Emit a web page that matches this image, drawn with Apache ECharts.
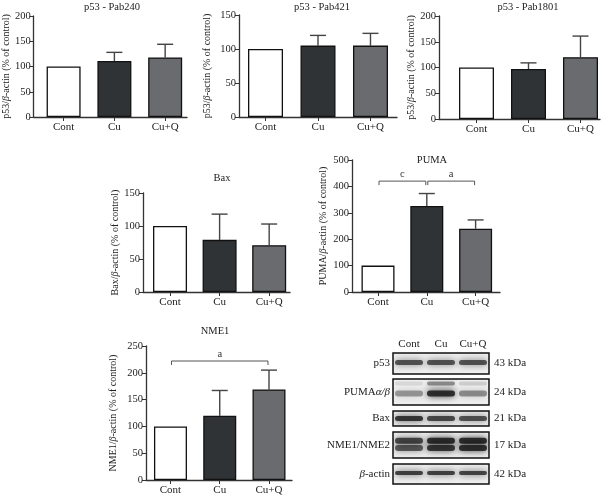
<!DOCTYPE html>
<html><head><meta charset="utf-8">
<script src="https://cdn.jsdelivr.net/npm/echarts@6/dist/echarts.min.js"></script>
<style>html,body{margin:0;padding:0;background:#fff}#c{width:607px;height:497px}</style>
</head><body><div id="c"></div>
<script>
// ---------- data ----------
const categories = ['Cont', 'Cu', 'Cu+Q'];
const pab240 = [100, 111, 118];
const pab240Err = [0, 17, 26];
const pab421 = [100, 105, 105];
const pab421Err = [0, 15, 18];
const pab1801 = [100, 97, 120];
const pab1801Err = [0, 12, 41];
const bax = [100, 79, 71];
const baxErr = [0, 39, 32];
const puma = [100, 326, 240];
const pumaErr = [0, 47, 33];
const nme1 = [100, 120, 169];
const nme1Err = [0, 47, 36];
const pumaSig = [[1, 2, 420], [2, 3, 420]];
const pumaSigLabels = ['c', 'a'];
const nme1Sig = [[1, 3, 222]];
const nme1SigLabels = ['a'];
// blot band intensities (per lane)
const blotRows = ['p53', 'PUMAα/β', 'Bax', 'NME1/NME2', 'β-actin'];
const blotKDa = ['43 kDa', '24 kDa', '21 kDa', '17 kDa', '42 kDa'];
const bandP53 = [[0.8, 0.8, 0.8]];
const bandPUMA = [[0.12, 0.5, 0.18], [0.45, 1.0, 0.5]];
const bandBax = [[0.95, 0.85, 0.8]];
const bandNME = [[0.85, 1.0, 1.0], [0.75, 0.95, 1.0]];
const bandActin = [[0.9, 0.9, 0.88]];

// ---------- layout / style ----------
const F = '"Liberation Serif","DejaVu Serif",serif';
const fills = ['#ffffff', '#303336', '#6a6b6f'];
const AX = '#333';
const panels = [
  {title:'p53 - Pab240', yname:'p53', vals:pab240, errs:pab240Err, ymax:200, step:50, grid:{left:33,top:16,width:154,height:101}, xmin:0.41, xmax:3.43, bw:34, gap:21, tx:112, ty:7},
  {title:'p53 - Pab421', yname:'p53', vals:pab421, errs:pab421Err, ymax:150, step:50, grid:{left:239,top:15,width:158,height:102}, xmin:0.495, xmax:3.505, bw:35, gap:27, tx:322, ty:7},
  {title:'p53 - Pab1801', yname:'p53', vals:pab1801, errs:pab1801Err, ymax:200, step:50, grid:{left:439,top:16,width:161,height:103}, xmin:0.279, xmax:3.375, bw:35, gap:21, tx:528, ty:7},
  {title:'Bax', yname:'Bax', vals:bax, errs:baxErr, ymax:150, step:50, grid:{left:143,top:193,width:147,height:99}, xmin:0.455, xmax:3.42, bw:34, gap:21, tx:222, ty:178},
  {title:'PUMA', yname:'PUMA', vals:puma, errs:pumaErr, ymax:500, step:100, grid:{left:352,top:160,width:148,height:132}, xmin:0.467, xmax:3.5, bw:33, gap:24, tx:432, ty:160, sig:pumaSig, sigL:pumaSigLabels},
  {title:'NME1', yname:'NME1', vals:nme1, errs:nme1Err, ymax:250, step:50, grid:{left:146,top:346,width:146,height:134}, xmin:0.503, xmax:3.467, bw:33, gap:28, tx:215, ty:331, sig:nme1Sig, sigL:nme1SigLabels}
];
const blotLayout = [
  {top:353, h:21, bands:[{pos:0.45, th:5}], data:bandP53},
  {top:379, h:26, bands:[{pos:0.17, th:4}, {pos:0.56, th:6}], data:bandPUMA},
  {top:411, h:15, bands:[{pos:0.5, th:5}], data:bandBax},
  {top:432, h:26, bands:[{pos:0.34, th:6}, {pos:0.62, th:6}], data:bandNME},
  {top:464, h:20, bands:[{pos:0.45, th:4}], data:bandActin}
];

const grids = [], xAxes = [], yAxes = [], series = [], graphics = [];
const rich = {r:{fontFamily:F, fontSize:10, color:'#222'}, i:{fontFamily:F, fontSize:10, color:'#222', fontStyle:'italic'}};

panels.forEach((p, k) => {
  grids.push(Object.assign({containLabel:false}, p.grid));
  xAxes.push({
    gridIndex:k, type:'value', min:p.xmin, max:p.xmax,
    axisLine:{show:true, onZero:false, lineStyle:{color:AX, width:1.3}},
    axisTick:{show:true, customValues:[1,2,3], length:4, lineStyle:{color:AX}},
    axisLabel:{customValues:[1,2,3], formatter:v => categories[Math.round(v)-1], fontFamily:F, fontSize:11, color:'#222', margin:5},
    splitLine:{show:false}
  });
  yAxes.push({
    gridIndex:k, type:'value', min:0, max:p.ymax, interval:p.step,
    axisLine:{show:true, lineStyle:{color:AX, width:1.3}},
    axisTick:{show:true, length:4, lineStyle:{color:AX}},
    axisLabel:{fontFamily:F, fontSize:10.5, color:'#222', margin:3},
    splitLine:{show:false},
    name:'{r|' + p.yname + '/}{i|β}{r|-actin (% of control)}',
    nameLocation:'middle', nameGap:p.gap, nameRotate:90,
    nameTextStyle:{rich:rich}
  });
  series.push({
    type:'bar', xAxisIndex:k, yAxisIndex:k, barWidth:p.bw,
    data:p.vals.map((v, j) => ({value:[j+1, v], itemStyle:{color:fills[j], borderColor:'#111', borderWidth:1.3}})),
    silent:true, animation:false
  });
  series.push({
    type:'custom', xAxisIndex:k, yAxisIndex:k, animation:false, silent:true,
    data:p.vals.map((v, j) => [j+1, v, v + p.errs[j]]),
    renderItem:(params, api) => {
      if (api.value(2) <= api.value(1)) return;
      const a = api.coord([api.value(0), api.value(1)]);
      const b = api.coord([api.value(0), api.value(2)]);
      const cw = 8;
      return {type:'group', children:[
        {type:'line', shape:{x1:a[0], y1:a[1], x2:b[0], y2:b[1]}, style:{stroke:'#444', lineWidth:1.4}},
        {type:'line', shape:{x1:b[0]-cw, y1:b[1], x2:b[0]+cw, y2:b[1]}, style:{stroke:'#444', lineWidth:1.4}}
      ]};
    }
  });
  if (p.sig) {
    series.push({
      type:'custom', xAxisIndex:k, yAxisIndex:k, animation:false, silent:true,
      data:p.sig,
      renderItem:(params, api) => {
        const a = api.coord([api.value(0), api.value(2)]);
        const b = api.coord([api.value(1), api.value(2)]);
        return {type:'group', children:[
          {type:'polyline', shape:{points:[[a[0]+1, a[1]+4], [a[0]+1, a[1]], [b[0]-1, b[1]], [b[0]-1, b[1]+4]]}, style:{stroke:'#555', lineWidth:1, fill:null}},
          {type:'text', style:{text:p.sigL[params.dataIndex], x:(a[0]+b[0])/2, y:a[1]-7, align:'center', verticalAlign:'middle', fontFamily:F, fontSize:10.5, fill:'#333'}}
        ]};
      }
    });
  }
  graphics.push({type:'text', x:p.tx, y:p.ty, style:{text:p.title, align:'center', verticalAlign:'middle', fontFamily:F, fontSize:10.5, fill:'#222'}});
});

// ---------- western blot ----------
const rowFmt = ['{r|p53}', '{r|PUMA}{i|α/β}', '{r|Bax}', '{r|NME1/NME2}', '{i|β}{r|-actin}'];
const blotRich = {r:{fontFamily:F, fontSize:11, color:'#222'}, i:{fontFamily:F, fontSize:11, color:'#222', fontStyle:'italic'}};
blotLayout.forEach((b, r) => {
  const gi = grids.length;
  grids.push({left:393, top:b.top, width:96, height:b.h, show:true, borderColor:'#111', borderWidth:1.5, backgroundColor:'#efefef'});
  xAxes.push({gridIndex:gi, type:'category', data:categories, position:'top', show:r === 0,
    axisLine:{show:false}, axisTick:{show:false},
    axisLabel:{interval:0, fontFamily:F, fontSize:11, color:'#222', margin:3}});
  const yi = yAxes.length;
  yAxes.push({gridIndex:gi, type:'category', data:[blotRows[r]], position:'left',
    axisLine:{show:false}, axisTick:{show:false},
    axisLabel:{formatter:() => rowFmt[r], rich:blotRich, margin:3}});
  yAxes.push({gridIndex:gi, type:'category', data:[blotKDa[r]], position:'right',
    axisLine:{show:false}, axisTick:{show:false},
    axisLabel:{fontFamily:F, fontSize:11, color:'#222', margin:5}});
  series.push({
    type:'custom', xAxisIndex:gi, yAxisIndex:yi, animation:false, silent:true, clip:true,
    encode:{x:0, y:1},
    data:categories.map((c, j) => [j, 0].concat(b.data.map(arr => arr[j]))),
    renderItem:(params, api) => {
      const cs = params.coordSys;
      const c = api.coord([api.value(0), 0]);
      const w = api.size([1, 0])[0];
      return {type:'group', children:b.bands.map((bd, m) => {
        const k = api.value(2 + m);
        return {type:'rect', shape:{x:c[0]-w/2+2, y:cs.y + cs.height*bd.pos - bd.th/2, width:w-4, height:bd.th, r:bd.th/2},
          style:{fill:'rgba(25,25,25,' + (k*0.85).toFixed(2) + ')', shadowBlur:7, shadowColor:'rgba(0,0,0,' + (k*0.9).toFixed(2) + ')'}};
      })};
    }
  });
});

const chart = echarts.init(document.getElementById('c'));
chart.setOption({
  animation:false,
  backgroundColor:'#fff',
  grid:grids, xAxis:xAxes, yAxis:yAxes, series:series, graphic:graphics
});
</script></body></html>
